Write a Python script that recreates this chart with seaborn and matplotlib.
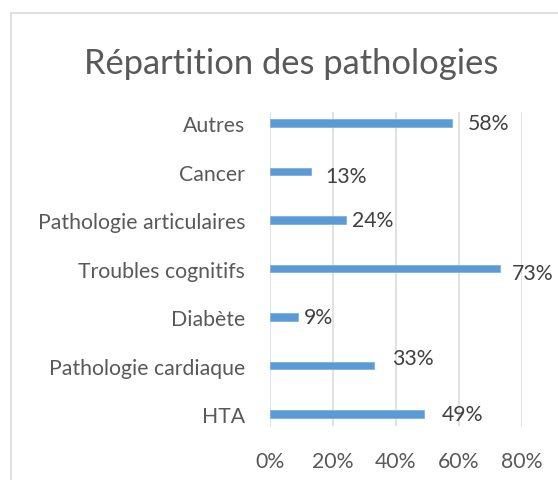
import matplotlib
matplotlib.use("Agg")
import matplotlib.pyplot as plt
import seaborn as sns
import pandas as pd
from matplotlib.patches import Rectangle
from matplotlib.ticker import PercentFormatter

# data, top to bottom as shown
categories = ["Autres", "Cancer", "Pathologie articulaires", "Troubles cognitifs",
              "Diabète", "Pathologie cardiaque", "HTA"]
values = [0.58, 0.13, 0.24, 0.73, 0.09, 0.33, 0.49]
xticks = [0.0, 0.2, 0.4, 0.6, 0.8]

# label nudges (points) to mimic the original placement
label_dx = [11, 10, 5, 8.5, 4, 13, 12.5]
label_dy = [0, -3.2, 0, -3, 0, 5.5, 0]

sns.set_theme(style="white")
plt.rcParams["font.family"] = ["Lato", "DejaVu Sans"]

df = pd.DataFrame({"cat": categories, "val": values})

fig = plt.figure(figsize=(5.58, 4.81), dpi=100)
fig.patch.set_facecolor("white")
fig.add_artist(Rectangle((11 / 558, -0.1), 1.2, 1 - 14 / 481 + 0.1,
                         transform=fig.transFigure, fill=False,
                         edgecolor="#D9D9D9", linewidth=1.2))

ax = fig.add_axes([270 / 558, 1 - 427 / 481, (521.7 - 270) / 558, (427 - 113) / 481])
sns.barplot(data=df, x="val", y="cat", order=categories, orient="h",
            color="#5B9BD5", width=0.16, edgecolor="#7DB0E0", linewidth=0.6,
            saturation=1, ax=ax)

ax.set_xlim(0, 0.8)
ax.set_ylim(6.247, -0.227)
ax.set_xticks(xticks)
ax.xaxis.set_major_formatter(PercentFormatter(1.0, decimals=0))
ax.grid(axis="x", color="#D9D9D9", linewidth=1.1)
ax.grid(axis="y", visible=False)
ax.set_axisbelow(True)
for s in ax.spines.values():
    s.set_visible(False)
ax.tick_params(axis="both", length=0, labelsize=15.3, labelcolor="#595959")
ax.tick_params(axis="y", pad=18)
ax.tick_params(axis="x", pad=18)
ax.set_xlabel("")
ax.set_ylabel("")

for i, v in enumerate(values):
    ax.annotate(f"{v:.0%}", xy=(v, i), xytext=(label_dx[i], label_dy[i]),
                textcoords="offset points", ha="left", va="center",
                fontsize=15.3, color="#404040", annotation_clip=False)

fig.text(291 / 558, 1 - 64 / 481, "Répartition des pathologies", ha="center",
         va="center", fontsize=24.8, color="#595959")

fig.savefig("out.png", dpi=100)
